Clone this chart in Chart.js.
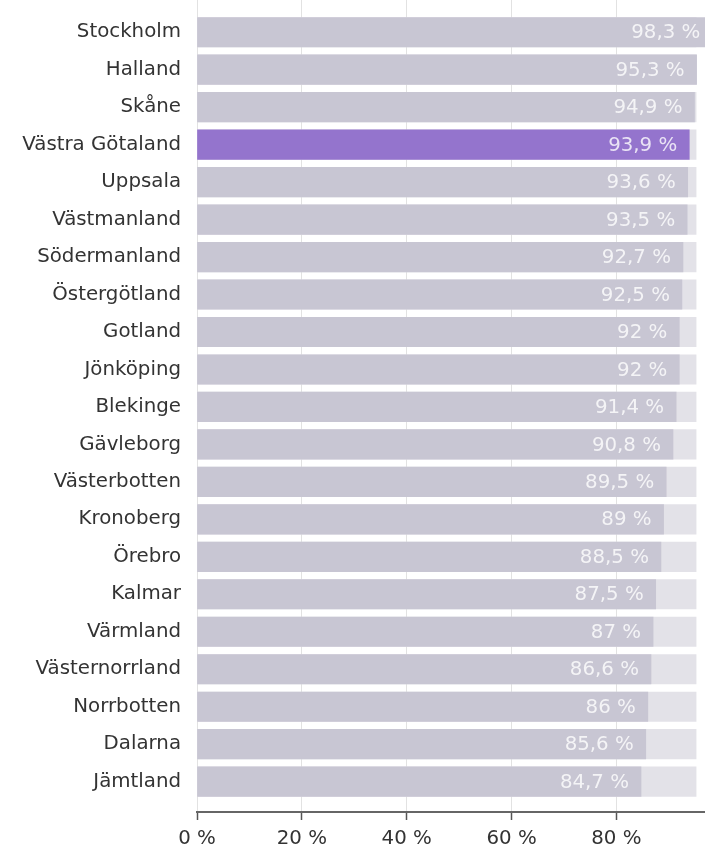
<!DOCTYPE html>
<html>
<head>
<meta charset="utf-8">
<script src="https://cdn.jsdelivr.net/npm/chart.js@4"></script>
<style>
    body { margin: 0; background: #fff; }
    #wrap { width: 705px; height: 845px; position: relative; }
</style>
</head>
<body>
<div id="wrap"><canvas id="myChart"></canvas></div>
<script>
// Län och andel (%)
const regions = ['Stockholm', 'Halland', 'Skåne', 'Västra Götaland', 'Uppsala', 'Västmanland', 'Södermanland',
    'Östergötland', 'Gotland', 'Jönköping', 'Blekinge', 'Gävleborg', 'Västerbotten', 'Kronoberg', 'Örebro',
    'Kalmar', 'Värmland', 'Västernorrland', 'Norrbotten', 'Dalarna', 'Jämtland'];
const values = [98.3, 95.3, 94.9, 93.9, 93.6, 93.5, 92.7, 92.5, 92, 92, 91.4, 90.8, 89.5, 89, 88.5, 87.5, 87, 86.6, 86, 85.6, 84.7];
const background = [95.2, 95.2, 95.2, 95.2, 95.2, 95.2, 95.2, 95.2, 95.2, 95.2, 95.2, 95.2, 95.2, 95.2, 95.2, 95.2, 95.2, 95.2, 95.2, 95.2, 95.2];
const xTicks = [0, 20, 40, 60, 80];
const highlight = 'Västra Götaland';

const FONT = 'DejaVu Sans';
const SIZE = 19.8;

// skriver värdet inne i stapelns ände
const valueLabels = {
    id: 'valueLabels',
    afterDatasetsDraw(chart) {
        const ctx = chart.ctx;
        const meta = chart.getDatasetMeta(0);
        ctx.save();
        ctx.font = `${SIZE}px "${FONT}"`;
        ctx.fillStyle = 'rgba(255, 255, 255, 0.8)';
        ctx.textAlign = 'right';
        ctx.textBaseline = 'middle';
        meta.data.forEach((bar, i) => {
            const txt = String(values[i]).replace('.', ',') + ' %';
            ctx.fillText(txt, bar.x - 12, bar.y + 1);
        });
        ctx.restore();
    }
};

const ctx1 = document.getElementById('myChart').getContext('2d');
new Chart(ctx1, {
    type: 'bar',
    data: {
        datasets: [{
            label: 'Andel',
            data: values.map((v, i) => ({ x: v, y: i })),
            backgroundColor: (c) => regions[c.dataIndex] === highlight ? '#9474cd' : '#c8c6d3',
            barThickness: 29.5,
            grouped: false,
        }, {
            label: 'Bakgrund',
            data: background.map((v, i) => ({ x: v, y: i })),
            backgroundColor: '#e3e2e8',
            barThickness: 29.5,
            grouped: false,
        }]
    },
    options: {
        indexAxis: 'y',
        responsive: true,
        maintainAspectRatio: false,
        animation: false,
        layout: { padding: 0 },
        scales: {
            x: {
                type: 'linear',
                min: 0,
                max: 96.9,
                afterFit: (s) => { s.height = 33; s.paddingLeft = 0; s.paddingRight = 0; },
                afterBuildTicks: (s) => { s.ticks = xTicks.map(v => ({ value: v })); },
                ticks: {
                    callback: (v) => v + ' %',
                    color: '#333',
                    padding: 7,
                    font: { family: FONT, size: SIZE },
                    maxRotation: 0,
                },
                grid: {
                    color: '#e2e2e2',
                    lineWidth: 1,
                    tickLength: 8,
                    tickColor: '#555',
                    tickWidth: 1.5,
                },
                border: { display: true, color: '#666', width: 2 }
            },
            y: {
                type: 'linear',
                reverse: true,
                offset: false,
                min: -0.86,
                max: 20.81,
                afterFit: (s) => { s.width = 197; s.paddingTop = 0; s.paddingBottom = 0; },
                afterBuildTicks: (s) => { s.ticks = regions.map((_, i) => ({ value: i })); },
                ticks: {
                    callback: (v) => regions[v],
                    color: '#333',
                    padding: 16,
                    font: { family: FONT, size: SIZE },
                },
                grid: { display: false, drawTicks: false, offset: false },
                border: { display: false }
            }
        },
        plugins: {
            legend: { display: false },
            tooltip: { enabled: false }
        }
    },
    plugins: [valueLabels]
});
</script>
</body>
</html>
